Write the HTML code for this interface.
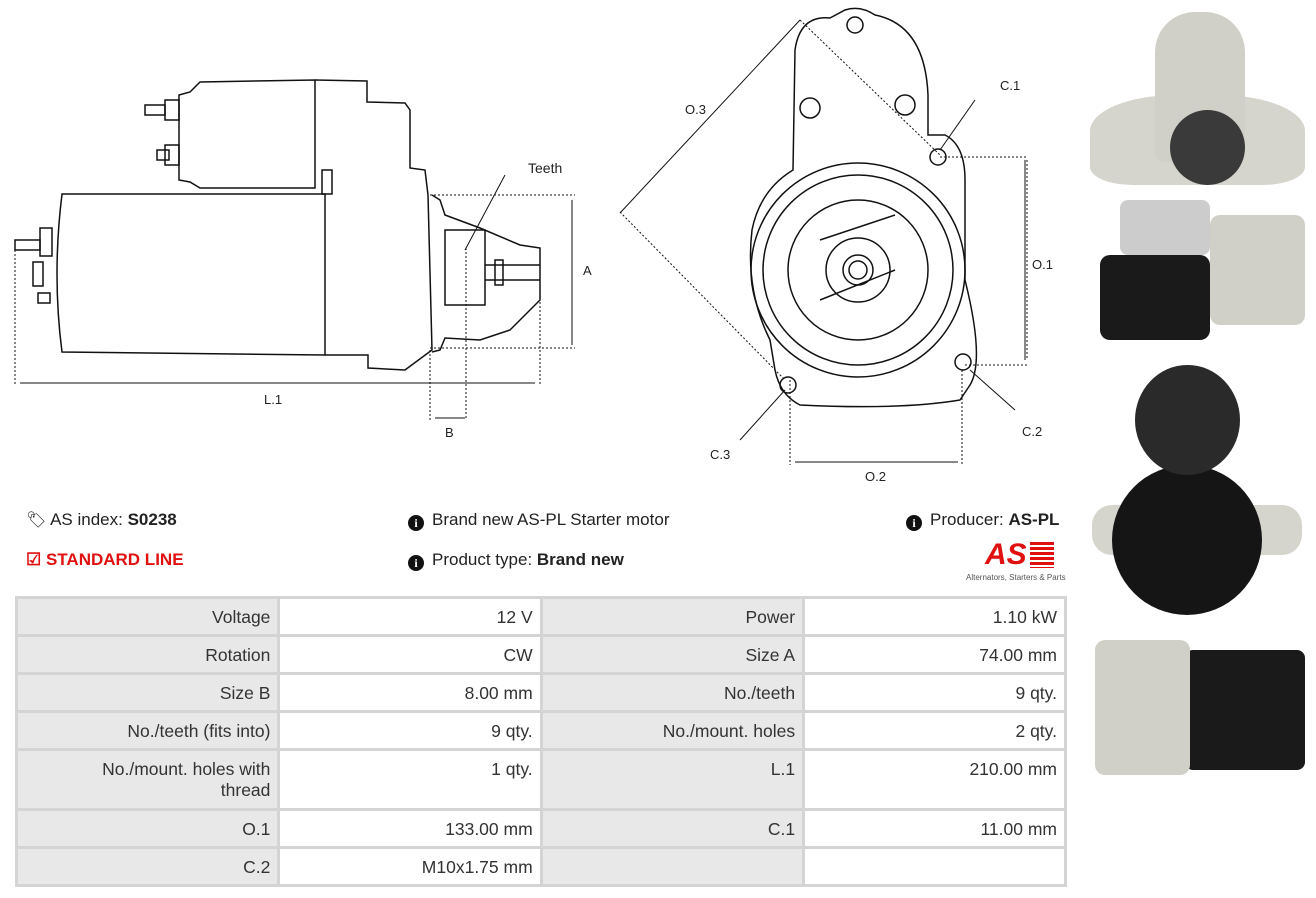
<!DOCTYPE html>
<html><head><meta charset="utf-8"><style>
body{margin:0;width:1316px;height:898px;background:#fff;position:relative;overflow:hidden;font-family:"Liberation Sans",sans-serif;color:#222}
.t{position:absolute;font-size:17px;white-space:nowrap}
table{position:absolute;left:15px;top:596px;border-collapse:collapse;width:1052px;font-size:17.5px;color:#333}
td{border:3px solid #d4d4d4;text-align:right;padding:8px 7px 0 7px;vertical-align:top;height:27px;width:248px}
td.l{background:#e8e8e8}
.ic{display:inline-block;width:16px;height:16px;border-radius:50%;background:#111;color:#fff;font:bold 12px "Liberation Serif",serif;text-align:center;line-height:16px;vertical-align:-2px;margin-right:8px}
</style></head><body>
<svg width="1316" height="500" style="position:absolute;left:0;top:0" fill="none" stroke="#111" stroke-width="1.5">
<rect x="145" y="105" width="20" height="10"/><rect x="157" y="150" width="12" height="10"/>
<rect x="165" y="100" width="14" height="20"/><rect x="165" y="145" width="14" height="20"/>
<path d="M179 95 L190 92 L200 82 L315 80 L315 188 L200 188 L190 182 L179 180Z"/>
<path d="M315 80 L367 81 L367 102 L405 103 L410 110 L410 168 L425 170 L428 195 L432 350 L405 370 L368 368 L368 355 L325 355"/>
<path d="M62 194 L325 194 L325 355 L62 352 Q52 275 62 194Z"/>
<rect x="40" y="228" width="12" height="28"/><rect x="15" y="240" width="25" height="10"/>
<rect x="33" y="262" width="10" height="24"/><rect x="38" y="293" width="12" height="10"/>
<rect x="322" y="170" width="10" height="24"/>
<path d="M432 195 L440 200 L445 215 L480 228 L520 245 L540 248 L540 300 L510 330 L480 340 L445 338 L440 350 L432 352"/>
<rect x="445" y="230" width="40" height="75"/><rect x="495" y="260" width="8" height="25"/>
<path d="M485 265 L540 265 M485 280 L540 280"/>
<g stroke-width="1" stroke-dasharray="2,2">
<path d="M15 250 V385 M540 250 V385 M430 195 H575 M430 348 H575 M430 350 V420 M466 248 V420"/>
<path d="M790 380 V465 M962 370 V465 M940 157 H1027 M965 365 H1027 M620 212 L785 380 M800 20 L940 155"/>
<path d="M1027 160 V360"/>
</g>
<g stroke-width="1">
<path d="M20 383 H535 M572 200 V345 M435 418 H465 M795 462 H958 M1025 160 V360 M620 213 L800 20 M505 175 L465 250 M975 100 L940 150 M1015 410 L970 370 M740 440 L785 390"/>
</g>
<path d="M793 170 L795 50 Q800 15 830 18 L845 10 Q860 5 875 15 Q925 25 928 95 L928 135 L945 135 Q965 145 965 180 L965 280 Q985 360 970 385 L960 400 Q900 410 800 405 Q780 395 775 370 L770 340 Q745 290 752 230 Q760 190 793 170Z"/>
<circle cx="858" cy="270" r="107"/><circle cx="858" cy="270" r="95"/><circle cx="858" cy="270" r="70"/>
<path d="M820 240 L895 215 M820 300 L895 270"/>
<circle cx="858" cy="270" r="32"/><circle cx="858" cy="270" r="15"/><circle cx="858" cy="270" r="9"/>
<circle cx="855" cy="25" r="8"/><circle cx="810" cy="108" r="10"/><circle cx="905" cy="105" r="10"/>
<circle cx="938" cy="157" r="8"/><circle cx="963" cy="362" r="8"/><circle cx="788" cy="385" r="8"/>
</svg>
<div class="t" style="left:528px;top:160px;font-size:14px">Teeth</div>
<div class="t" style="left:583px;top:263px;font-size:13px">A</div>
<div class="t" style="left:264px;top:392px;font-size:13px">L.1</div>
<div class="t" style="left:445px;top:425px;font-size:13px">B</div>
<div class="t" style="left:685px;top:102px;font-size:13px">O.3</div>
<div class="t" style="left:1000px;top:78px;font-size:13px">C.1</div>
<div class="t" style="left:1032px;top:257px;font-size:13px">O.1</div>
<div class="t" style="left:1022px;top:424px;font-size:13px">C.2</div>
<div class="t" style="left:710px;top:447px;font-size:13px">C.3</div>
<div class="t" style="left:865px;top:469px;font-size:13px">O.2</div>
<div style="position:absolute;left:1090px;top:95px;width:215px;height:90px;background:#d5d5cd;border-radius:40% 40% 20% 20%"></div>
<div style="position:absolute;left:1155px;top:12px;width:90px;height:150px;background:#d0d0c8;border-radius:40px 40px 10px 10px"></div>
<div style="position:absolute;left:1170px;top:110px;width:75px;height:75px;background:#3a3a3a;border-radius:50%"></div>
<div style="position:absolute;left:1100px;top:255px;width:110px;height:85px;background:#1a1a1a;border-radius:10px"></div>
<div style="position:absolute;left:1120px;top:200px;width:90px;height:55px;background:#ccc;border-radius:8px"></div>
<div style="position:absolute;left:1210px;top:215px;width:95px;height:110px;background:#d0d0c8;border-radius:10px"></div>
<div style="position:absolute;left:1092px;top:505px;width:210px;height:50px;background:#d5d5cd;border-radius:20px"></div>
<div style="position:absolute;left:1112px;top:465px;width:150px;height:150px;background:#151515;border-radius:50%"></div>
<div style="position:absolute;left:1135px;top:365px;width:105px;height:110px;background:#2a2a2a;border-radius:50%"></div>
<div style="position:absolute;left:1185px;top:650px;width:120px;height:120px;background:#1a1a1a;border-radius:8px"></div>
<div style="position:absolute;left:1095px;top:640px;width:95px;height:135px;background:#d0d0c8;border-radius:10px"></div>
<div class="t" style="left:26px;top:510px"><span style="font-size:16px">&#x1F3F7;&#xFE0E;</span> AS index: <b>S0238</b></div>
<div class="t" style="left:26px;top:550px;color:#e01010;font-weight:bold">&#x2611; STANDARD LINE</div>
<div class="t" style="left:408px;top:510px"><span class="ic">i</span>Brand new AS-PL Starter motor</div>
<div class="t" style="left:408px;top:550px"><span class="ic">i</span>Product type: <b>Brand new</b></div>
<div class="t" style="left:906px;top:510px"><span class="ic">i</span>Producer: <b>AS-PL</b></div>
<div class="t" style="left:985px;top:538px;color:#e01010;font:italic bold 30px 'Liberation Sans',sans-serif">AS</div>
<div style="position:absolute;left:1030px;top:542px;width:24px;height:26px;background:repeating-linear-gradient(#e01010 0 3px,#fff 3px 5px)"></div>
<div class="t" style="left:966px;top:573px;font-size:8px;color:#555">Alternators, Starters &amp; Parts</div>
<table>
<tr><td class="l">Voltage</td><td>12 V</td><td class="l">Power</td><td>1.10 kW</td></tr>
<tr><td class="l">Rotation</td><td>CW</td><td class="l">Size A</td><td>74.00 mm</td></tr>
<tr><td class="l">Size B</td><td>8.00 mm</td><td class="l">No./teeth</td><td>9 qty.</td></tr>
<tr><td class="l">No./teeth (fits into)</td><td>9 qty.</td><td class="l">No./mount. holes</td><td>2 qty.</td></tr>
<tr><td class="l" style="height:49px;line-height:21px">No./mount. holes with<br>thread</td><td>1 qty.</td><td class="l">L.1</td><td>210.00 mm</td></tr>
<tr><td class="l">O.1</td><td>133.00 mm</td><td class="l">C.1</td><td>11.00 mm</td></tr>
<tr><td class="l">C.2</td><td>M10x1.75 mm</td><td class="l"></td><td></td></tr>
</table>
</body></html>
